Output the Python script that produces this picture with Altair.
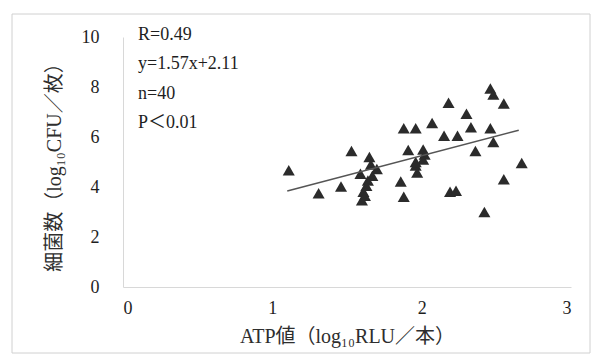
import altair as alt
import pandas as pd

atp = [1.11, 1.31, 1.46, 1.53, 1.59, 1.65, 1.66, 1.70, 1.64, 1.61, 1.60, 1.62, 1.63, 1.67,
       1.88, 1.96, 2.07, 1.91, 2.01, 2.02, 1.96, 1.97, 1.86, 1.88, 2.01, 1.96,
       2.18, 2.15, 2.24, 2.30, 2.33, 2.36, 2.19, 2.23,
       2.46, 2.48, 2.55, 2.46, 2.48, 2.67, 2.55, 2.42]
cfu = [4.67, 3.75, 4.02, 5.44, 4.53, 5.20, 4.90, 4.72, 4.26, 3.81, 3.47, 3.65, 4.05, 4.45,
       6.35, 6.35, 6.56, 5.48, 5.50, 5.30, 4.86, 4.58, 4.22, 3.61, 5.10, 5.00,
       7.37, 6.05, 6.05, 6.93, 6.39, 5.44, 3.81, 3.85,
       7.94, 7.70, 7.34, 6.35, 5.80, 4.96, 4.31, 3.00]

slope, intercept = 1.57, 2.11
line_x = [1.10, 2.65]
stats_text = ["R=0.49", "y=1.57x+2.11", "n=40", "P＜0.01"]

FONT = "Liberation Serif, Noto Sans CJK JP"

pts = pd.DataFrame({"atp": atp, "cfu": cfu})
ln = pd.DataFrame({"atp": line_x, "cfu": [slope * v + intercept for v in line_x]})

xscale = alt.Scale(domain=[0, 3], nice=False)
yscale = alt.Scale(domain=[0, 10], nice=False)
xaxis = alt.Axis(values=[0, 1, 2, 3], format="d", title="ATP値（log₁₀RLU／本）",
                 grid=False, ticks=False, domainColor="#d8d8d8",
                 labelPadding=12, titlePadding=9)
yaxis = alt.Axis(values=[0, 2, 4, 6, 8, 10], format="d", title="細菌数（log₁₀CFU／枚）",
                 grid=False, ticks=False, domainColor="#d8d8d8",
                 labelPadding=24, titlePadding=17)

points = alt.Chart(pts).mark_point(
    shape="triangle-up", filled=True, color="#2b2b2b", size=145, opacity=1
).encode(
    x=alt.X("atp:Q", scale=xscale, axis=xaxis),
    y=alt.Y("cfu:Q", scale=yscale, axis=yaxis),
)

trend = alt.Chart(ln).mark_line(color="#555555", strokeWidth=1.5).encode(
    x=alt.X("atp:Q", scale=xscale, axis=xaxis),
    y=alt.Y("cfu:Q", scale=yscale, axis=yaxis),
)

frame = alt.Chart(pd.DataFrame({"a": [0]})).mark_rect(
    fill=None, stroke="#d0d0d0", strokeWidth=1
).encode(x=alt.value(-111), x2=alt.value(467), y=alt.value(-23), y2=alt.value(316))

labels = alt.Chart(pd.DataFrame({"a": [0]})).mark_text(
    align="left", baseline="top", font=FONT, fontSize=18, color="#1e1e1e",
    lineBreak="\n", lineHeight=29.3
).encode(
    x=alt.value(15),
    y=alt.value(-11),
    text=alt.value("\n".join(stats_text)),
)

chart = alt.layer(points, trend, frame, labels).properties(
    width=448, height=250,
    autosize=alt.AutoSizeParams(type="none"),
    padding={"left": 123, "top": 37, "right": 23, "bottom": 68},
    background="white",
).configure_view(stroke=None).configure_axis(
    labelFont=FONT, titleFont=FONT, labelFontSize=18, titleFontSize=20,
    labelColor="#1e1e1e", titleColor="#2e2e2e", titleFontWeight="normal",
)

chart.save("out.html", embed_options={"renderer": "svg", "actions": False})
